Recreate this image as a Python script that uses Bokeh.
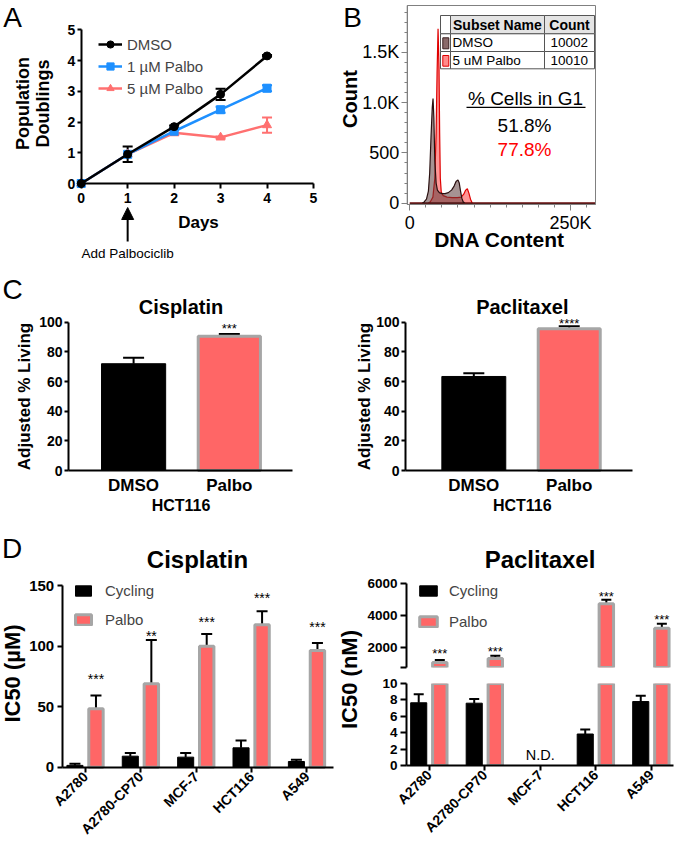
import math
from bokeh.plotting import figure
from bokeh.layouts import row, column
from bokeh.models import (Label, Arrow, NormalHead, BoxAnnotation, Legend, LegendItem,
                          FixedTicker, Range1d, Whisker, TeeHead, ColumnDataSource)
from bokeh.core.properties import value
from bokeh.embed import file_html
from bokeh.resources import INLINE

S = 1.0
FONT = "Liberation Sans"
NAN = float("nan")

# ---------------- data: panel A ----------------
days = [0, 1, 2, 3, 4]
dmso_doublings = [0.0, 0.95, 1.85, 2.90, 4.15]
dmso_doublings_err = [0.0, 0.25, 0.04, 0.18, 0.03]
palbo1_doublings = [0.0, 0.95, 1.70, 2.40, 3.10]
palbo1_doublings_err = [0.0, 0.0, 0.05, 0.10, 0.10]
palbo5_doublings = [0.0, 0.95, 1.65, 1.50, 1.90]
palbo5_doublings_err = [0.0, 0.0, 0.08, 0.03, 0.25]
series_a = ["DMSO", "1 µM Palbo", "5 µM Palbo"]
a_ticks = [0, 1, 2, 3, 4, 5]

# ---------------- data: panel B ----------------
dna_dmso_k = [0, 18, 22, 26, 29, 31, 33, 35, 36.2, 37.5, 39, 41, 43, 46, 50, 55, 60, 65, 69, 72, 75, 77, 79, 81, 83, 86, 289]
count_dmso = [0, 0, 10, 40, 120, 300, 650, 950, 1040, 850, 420, 200, 130, 105, 95, 95, 105, 130, 170, 215, 232, 200, 120, 50, 15, 0, 0]
dna_palbo_k = [0, 28, 32, 36, 39, 41, 42.5, 44, 45.5, 46.5, 47.5, 49, 52, 58, 66, 74, 80, 84, 87, 89.6, 92, 94.5, 97, 99, 289]
count_palbo = [0, 0, 15, 60, 250, 700, 1300, 1733, 1350, 700, 250, 110, 75, 60, 55, 55, 60, 90, 130, 143, 100, 40, 5, 0, 0]
b_count_ticks = [0, 500, 1000, 1500]
b_count_labels = ["0", "500", "1.0K", "1.5K"]
b_dna_ticks = [0, 250000]
b_dna_labels = ["0", "250K"]
table_names = ["DMSO", "5 uM Palbo"]
table_counts = ["10002", "10010"]
g1_pct = ["51.8%", "77.8%"]

# ---------------- data: panel C ----------------
c_groups = ["DMSO", "Palbo"]
c_ticks = [0, 20, 40, 60, 80, 100]
cis_living = [72.0, 90.5]
cis_living_err = [4.0, 1.6]
pac_living = [63.4, 95.5]
pac_living_err = [2.2, 1.8]
cis_living_stars = ["", "***"]
cis_living_star_y = [NAN, 97.8]
pac_living_stars = ["", "****"]
pac_living_star_y = [NAN, 101.0]

# ---------------- data: panel D ----------------
cells = ["A2780", "A2780-CP70", "MCF-7", "HCT116", "A549"]
cis_cycling = [1.5, 9.1, 8.3, 16.0, 4.7]
cis_cycling_err = [1.3, 2.7, 3.5, 6.0, 1.4]
cis_palbo = [48.2, 68.8, 99.8, 117.5, 96.3]
cis_palbo_err = [11.0, 36.2, 10.2, 11.2, 6.3]
cis_stars = ["***", "**", "***", "***", "***"]
cis_star_y = [75.7, 110.6, 122.7, 142.5, 118.6]
cis_ticks = [0, 50, 100, 150]
pac_cycling = [7.65, 7.6, NAN, 3.84, 7.8]
pac_cycling_err = [1.05, 0.5, NAN, 0.56, 0.7]
pac_palbo = [1055, 1308, NAN, 4738, 3200]
pac_palbo_err = [152, 170, NAN, 252, 277]
pac_stars = ["***", "***", "", "***", "***"]
pac_star_y = [1793, 1900, NAN, 5370, 3956]
pac_ticks_high = [740, 2000, 4000, 6000]
pac_ticks_low = [0, 2, 4, 6, 8, 10]
nd_cell = "MCF-7"

BLACK = "black"
BLUE = "#1E90FF"
SALMON = "#FF7070"
BAR_RED = "#FF6666"
BAR_EDGE = "#A6A6A6"


def px(v):
    return f"{v * S:.1f}px"


def full_fig(box, area, dx, dy, **kw):
    """Figure whose frame is its whole canvas; axes are fixed at the plot-area edges."""
    x0, y0, x1, y1 = box
    ax0, ay0, ax1, ay1 = area
    kx = (dx[1] - dx[0]) / (ax1 - ax0)
    ky = (dy[1] - dy[0]) / (ay1 - ay0)
    xr = (dx[0] - (ax0 - x0) * kx, dx[1] + (x1 - ax1) * kx)
    yr = (dy[0] - (y1 - ay1) * ky, dy[1] + (ay0 - y0) * ky)
    p = figure(width=round((x1 - x0) * S), height=round((y1 - y0) * S), title=None,
               x_range=Range1d(*xr), y_range=Range1d(*yr),
               min_border_left=0, min_border_right=0, min_border_top=0, min_border_bottom=0,
               output_backend="svg", toolbar_location=None, **kw)
    p.grid.visible = False
    p.outline_line_color = None
    p.background_fill_color = "white"
    p.border_fill_color = "white"
    p.xaxis[0].fixed_location = dy[0]
    p.xaxis[0].bounds = dx
    p.yaxis[0].fixed_location = dx[0]
    p.yaxis[0].bounds = dy
    return p


def border_fig(box, frame, xr, yr, **kw):
    x0, y0, x1, y1 = box
    fx0, fy0, fx1, fy1 = frame
    p = figure(width=round((x1 - x0) * S), height=round((y1 - y0) * S),
               x_range=Range1d(*xr), y_range=Range1d(*yr),
               min_border_left=round((fx0 - x0) * S), min_border_right=round((x1 - fx1) * S),
               min_border_top=round((fy0 - y0) * S), min_border_bottom=round((y1 - fy1) * S),
               output_backend="svg", toolbar_location=None, **kw)
    p.grid.visible = False
    p.outline_line_color = None
    p.background_fill_color = "white"
    p.border_fill_color = "white"
    return p


def style_axis(ax, size, bold=True, tick_out=5, standoff=3, lw=2, color="black"):
    ax.axis_line_width = lw
    ax.axis_line_color = color
    ax.major_tick_line_width = lw
    ax.major_tick_line_color = color
    ax.major_tick_out = tick_out
    ax.major_tick_in = 0
    ax.minor_tick_line_color = None
    ax.major_label_text_font = FONT
    ax.major_label_text_font_size = px(size)
    ax.major_label_text_font_style = "bold" if bold else "normal"
    ax.major_label_text_color = "black"
    ax.major_label_standoff = standoff


def lab(p, ref, rx, ry, text, size, bold=False, color="black", align="center",
        baseline="middle", angle=0.0):
    fx0, fy0, fx1, fy1 = ref
    p.add_layout(Label(x=(rx - fx0) * S, y=(fy1 - ry) * S, x_units="screen", y_units="screen",
                       text=text, text_font=FONT, text_font_size=px(size),
                       text_font_style="bold" if bold else "normal", text_color=color,
                       text_align=align, text_baseline=baseline, angle=angle))


def box(p, ref, rx0, ry0, rx1, ry1, fill, line=None, lw=1):
    fx0, fy0, fx1, fy1 = ref
    p.add_layout(BoxAnnotation(left=(rx0 - fx0) * S, right=(rx1 - fx0) * S,
                               top=(fy1 - ry0) * S, bottom=(fy1 - ry1) * S,
                               left_units="screen", right_units="screen",
                               top_units="screen", bottom_units="screen",
                               fill_color=fill if fill else "white", fill_alpha=1 if fill else 0,
                               line_color=line, line_width=lw, line_alpha=1 if line else 0))


def whisk(p, xs, lo, hi, color, size, lw=2, both=False):
    keep = [i for i in range(len(xs)) if not (math.isnan(lo[i]) or math.isnan(hi[i])) and hi[i] != lo[i]]
    src = ColumnDataSource(dict(x=[xs[i] for i in keep], lo=[lo[i] for i in keep], hi=[hi[i] for i in keep]))
    head = lambda: TeeHead(size=size * S, line_color=color, line_width=lw)
    p.add_layout(Whisker(source=src, base="x", lower="lo", upper="hi", line_color=color, line_width=lw,
                         upper_head=head(), lower_head=head() if both else None))


def stars(p, xs, ys, texts, size):
    keep = [i for i in range(len(xs)) if texts[i] and not math.isnan(ys[i])]
    src = ColumnDataSource(dict(x=[xs[i] for i in keep], y=[ys[i] for i in keep], t=[texts[i] for i in keep]))
    p.text(x="x", y="y", text="t", source=src, text_font=value(FONT), text_font_size=value(px(size)),
           text_align="center", text_baseline="middle", y_offset=0.22 * size * S, text_color="black")


# ================= Panel A =================
bA = (0, 0, 340, 262)
pA = full_fig(bA, (80.7, 29.3, 313, 183), (0, 5), (0, 5))
for ax in (pA.xaxis[0], pA.yaxis[0]):
    ax.ticker = FixedTicker(ticks=a_ticks)
style_axis(pA.xaxis[0], 14, tick_out=5, standoff=4)
style_axis(pA.yaxis[0], 14, tick_out=4, standoff=2)

rendA = {}
specA = [(palbo5_doublings, palbo5_doublings_err, SALMON, "triangle", 9, series_a[2]),
         (palbo1_doublings, palbo1_doublings_err, BLUE, "square", 8, series_a[1]),
         (dmso_doublings, dmso_doublings_err, BLACK, "circle", 8, series_a[0])]
for vals, errs, col, mk, sz, nm in specA:
    l = pA.line(days, vals, line_color=col, line_width=2.5)
    s = pA.scatter(days, vals, marker=mk, size=sz * S, fill_color=col, line_color=col)
    whisk(pA, days, [v - e for v, e in zip(vals, errs)], [v + e for v, e in zip(vals, errs)], col, 10, both=True)
    rendA[nm] = [l, s]

pA.add_layout(Legend(items=[LegendItem(label=nm, renderers=rendA[nm]) for nm in series_a],
                     location=((98 - bA[0]) * S, (bA[3] - 97) * S), padding=0, margin=0,
                     spacing=round(4.5 * S), glyph_width=round(24 * S), glyph_height=round(18 * S),
                     label_height=round(18 * S), label_standoff=round(5 * S),
                     label_text_font=FONT, label_text_font_size=px(15),
                     border_line_color=None, background_fill_alpha=0))

lab(pA, bA, 12, 17, "A", 28)
lab(pA, bA, 22.5, 103, "Population", 18, bold=True, angle=math.pi / 2)
lab(pA, bA, 42, 103, "Doublings", 18, bold=True, angle=math.pi / 2)
lab(pA, bA, 198, 222, "Days", 17, bold=True)
day1_x = 80.7 + (313 - 80.7) * days[1] / 5.0
pA.add_layout(Arrow(end=NormalHead(size=12 * S, fill_color="black", line_color="black"),
                    x_start=(day1_x - bA[0]) * S, y_start=(bA[3] - 241) * S,
                    x_end=(day1_x - bA[0]) * S, y_end=(bA[3] - 207) * S,
                    start_units="screen", end_units="screen", line_width=2, line_color="black"))
lab(pA, bA, day1_x, 253, "Add Palbociclib", 13.5)

# ================= Panel B =================
bB = (340, 0, 677, 262)
xB = (-4000, 289000)
yB = (-13, 1965)
pB = full_fig(bB, (406.7, 5, 595, 204), xB, yB)
pB.patch([k * 1000 for k in dna_palbo_k], count_palbo, fill_color="#FF4040", fill_alpha=0.55,
         line_color="#E00000", line_width=1.2)
pB.patch([k * 1000 for k in dna_dmso_k], count_dmso, fill_color="#5C3A3A", fill_alpha=0.55,
         line_color="#2A1010", line_width=1.2)
pB.add_layout(BoxAnnotation(left=xB[0], right=xB[1], bottom=yB[0], top=yB[1], fill_alpha=0,
                            line_color="#808080", line_width=1, line_alpha=1))
pB.xaxis[0].ticker = FixedTicker(ticks=b_dna_ticks, minor_ticks=[25000 * i for i in range(1, 12)])
pB.xaxis[0].major_label_overrides = dict(zip(b_dna_ticks, b_dna_labels))
pB.yaxis[0].ticker = FixedTicker(ticks=b_count_ticks, minor_ticks=[100 * i for i in range(1, 20)])
pB.yaxis[0].major_label_overrides = dict(zip(b_count_ticks, b_count_labels))
style_axis(pB.xaxis[0], 18, bold=False, tick_out=6, standoff=2, lw=1, color="#808080")
style_axis(pB.yaxis[0], 18, bold=False, tick_out=6, standoff=2, lw=1, color="#808080")
for ax in (pB.xaxis[0], pB.yaxis[0]):
    ax.minor_tick_line_color = "#808080"
    ax.minor_tick_out = 3
    ax.minor_tick_in = 0

TL = "#555555"
box(pB, bB, 440, 15, 450, 33.3, "white", TL)
box(pB, bB, 450, 15, 544, 33.3, "#E4E4E4", TL)
box(pB, bB, 544, 15, 594, 33.3, "#E4E4E4", TL)
for r0, r1 in ((33.3, 51), (51, 68.3)):
    box(pB, bB, 440, r0, 450, r1, "white", TL)
    box(pB, bB, 450, r0, 544, r1, "white", TL)
    box(pB, bB, 544, r0, 594, r1, "white", TL)
box(pB, bB, 442.3, 37.3, 448.3, 48.3, "#8A6A6A", "#3A2020")
box(pB, bB, 442.3, 55, 448.3, 65.7, "#FF8A8A", "#E00000")
lab(pB, bB, 452.5, 24.3, "Subset Name", 14, bold=True, align="left")
lab(pB, bB, 569, 24.3, "Count", 14, bold=True)
for nm, cnt, yy in zip(table_names, table_counts, (42.3, 60)):
    lab(pB, bB, 452, yy, nm, 13.5, align="left")
    lab(pB, bB, 587.5, yy, cnt, 13.5, align="right")
lab(pB, bB, 525, 98.3, "% Cells in G1", 19)
box(pB, bB, 466, 106.2, 585, 107.5, "black", None)
lab(pB, bB, 524, 125, g1_pct[0], 19, color="black")
lab(pB, bB, 524, 149, g1_pct[1], 19, color="#FF0000")
lab(pB, bB, 352, 17, "B", 28)
lab(pB, bB, 349, 98.5, "Count", 20, bold=True, angle=math.pi / 2)
lab(pB, bB, 499, 238.5, "DNA Content", 21, bold=True)


# ================= Panel C =================
def panel_c(bx, area, dx, vals, errs, st, st_y):
    p = full_fig(bx, area, dx, (0, 100))
    xs = list(range(len(c_groups)))
    p.vbar(x=[xs[0]], top=[vals[0]], width=0.67, fill_color="black", line_color="black", line_width=1)
    p.vbar(x=[xs[1]], top=[vals[1]], width=0.65, fill_color=BAR_RED, line_color=BAR_EDGE, line_width=3)
    whisk(p, xs, vals, [v + e for v, e in zip(vals, errs)], "black", 21)
    stars(p, xs, st_y, st, 13)
    p.yaxis[0].ticker = FixedTicker(ticks=c_ticks)
    p.xaxis[0].ticker = FixedTicker(ticks=xs)
    p.xaxis[0].major_label_overrides = {i: g for i, g in enumerate(c_groups)}
    style_axis(p.yaxis[0], 14, tick_out=4, standoff=2)
    style_axis(p.xaxis[0], 17, tick_out=0, standoff=5)
    p.xaxis[0].major_tick_line_color = None
    return p


bC1 = (0, 262, 340, 515)
pC1 = panel_c(bC1, (68, 321.7, 292, 470), (-0.68, 1.66), cis_living, cis_living_err,
              cis_living_stars, cis_living_star_y)
lab(pC1, bC1, 12, 289, "C", 28)
lab(pC1, bC1, 180.5, 306.7, "Cisplatin", 20, bold=True)
lab(pC1, bC1, 23.5, 396, "Adjusted % Living", 17, bold=True, angle=math.pi / 2)
lab(pC1, bC1, 180.5, 505, "HCT116", 16, bold=True)

bC2 = (340, 262, 677, 515)
pC2 = panel_c(bC2, (405, 321.7, 631.7, 470), (-0.716, 1.66), pac_living, pac_living_err,
              pac_living_stars, pac_living_star_y)
lab(pC2, bC2, 521.8, 306.7, "Paclitaxel", 20, bold=True)
lab(pC2, bC2, 363.5, 396, "Adjusted % Living", 17, bold=True, angle=math.pi / 2)
lab(pC2, bC2, 521.8, 505, "HCT116", 16, bold=True)

# ================= Panel D =================
OFF = 0.19
BW = 0.29
xi = list(range(len(cells)))
xb = [i - OFF for i in xi]
xr_ = [i + OFF for i in xi]


def cell_axis(ax):
    ax.ticker = FixedTicker(ticks=xi)
    ax.major_label_overrides = {i: c for i, c in enumerate(cells)}
    style_axis(ax, 14, tick_out=5, standoff=2)
    ax.major_label_orientation = math.pi / 4


def d_legend(p, ref, rb, rr, gx0, gx1, tx, top, pitch, gh):
    sp = pitch - gh
    bottom = top + 2 * gh + sp
    p.add_layout(Legend(items=[LegendItem(label="Cycling", renderers=[rb]),
                               LegendItem(label="Palbo", renderers=[rr])],
                        location=((gx0 - ref[0]) * S, (ref[3] - bottom) * S), padding=0, margin=0,
                        spacing=round(sp * S), glyph_width=round((gx1 - gx0) * S), glyph_height=round(gh * S),
                        label_height=round(gh * S), label_standoff=round((tx - gx1) * S),
                        label_text_font=FONT, label_text_font_size=px(15),
                        inactive_fill_alpha=0,
                        border_line_color=None, background_fill_alpha=0))


SPLIT = 363
bD1 = (0, 515, SPLIT, 844)
pD1 = full_fig(bD1, (61.7, 585, 333, 766.7), (-0.42, 4.48), (0, 150))
rb1 = pD1.vbar(x=xb, top=cis_cycling, width=BW, fill_color="black", line_color="black", line_width=1)
rr1 = pD1.vbar(x=xr_, top=cis_palbo, width=BW - 0.03, fill_color=BAR_RED, line_color=BAR_EDGE, line_width=3)
whisk(pD1, xb, cis_cycling, [v + e for v, e in zip(cis_cycling, cis_cycling_err)], "black", 11)
whisk(pD1, xr_, cis_palbo, [v + e for v, e in zip(cis_palbo, cis_palbo_err)], "black", 11)
stars(pD1, xr_, cis_star_y, cis_stars, 14)
pD1.yaxis[0].ticker = FixedTicker(ticks=cis_ticks)
style_axis(pD1.yaxis[0], 15, tick_out=5, standoff=3)
cell_axis(pD1.xaxis[0])
d_legend(pD1, bD1, rb1, rr1, 73, 93, 105, 590, 25, 13)
lab(pD1, bD1, 11.7, 547.5, "D", 28)
lab(pD1, bD1, 197, 559, "Cisplatin", 24, bold=True)
lab(pD1, bD1, 12, 673, "IC50 (µM)", 22, bold=True, angle=math.pi / 2)
lab(pD1, bD1, 349, 679, "IC50 (nM)", 22, bold=True, angle=math.pi / 2)

bD2t = (SPLIT, 515, 677, 674)
fD2t = (405.7, 583.3, 673, 666.7)
pD2t = border_fig(bD2t, fD2t, (-0.41, 4.40), (740, 6000), x_axis_location=None, title="Paclitaxel")
pD2t.title.align = "center"
pD2t.title.text_font = FONT
pD2t.title.text_font_size = px(24)
pD2t.title.text_font_style = "bold"
pD2t.title.text_color = "black"
pD2t.title.standoff = 21
pD2t.title.offset = 2
# cycling IC50s (< 10 nM) lie entirely in the lower axis segment; this hidden renderer only feeds the legend
rb2 = pD2t.vbar(x=xb, top=pac_cycling, width=BW, fill_color="black", line_color="black", line_width=1)
rb2.visible = False
rr2 = pD2t.vbar(x=xr_, top=pac_palbo, width=BW - 0.03, fill_color=BAR_RED, line_color=BAR_EDGE, line_width=3)
whisk(pD2t, xr_, pac_palbo, [v + e for v, e in zip(pac_palbo, pac_palbo_err)], "black", 10)
stars(pD2t, xr_, pac_star_y, pac_stars, 13)
pD2t.yaxis[0].ticker = FixedTicker(ticks=pac_ticks_high)
pD2t.yaxis[0].major_label_overrides = {pac_ticks_high[0]: ""}
style_axis(pD2t.yaxis[0], 13.5, tick_out=6, standoff=3)
d_legend(pD2t, fD2t, rb2, rr2, 416.7, 438.3, 448, 590, 26.5, 13)

bD2b = (SPLIT, 674, 677, 844)
fD2b = (405.7, 682.7, 673, 766)
pD2b = border_fig(bD2b, fD2b, (-0.41, 4.40), (0, 10), title=None)
pD2b.vbar(x=xb, top=pac_cycling, width=BW, fill_color="black", line_color="black", line_width=1)
pD2b.vbar(x=xr_, top=pac_palbo, width=BW - 0.03, fill_color=BAR_RED, line_color=BAR_EDGE, line_width=3)
whisk(pD2b, xb, pac_cycling, [v + e for v, e in zip(pac_cycling, pac_cycling_err)], "black", 10)
pD2b.yaxis[0].ticker = FixedTicker(ticks=pac_ticks_low)
style_axis(pD2b.yaxis[0], 13.5, tick_out=6, standoff=3)
cell_axis(pD2b.xaxis[0])
pD2b.add_layout(Label(x=cells.index(nd_cell), y=1.3, text="N.D.", text_font=FONT, text_font_size=px(14.5),
                      text_align="center", text_baseline="middle", text_color="black"))

layout = column(row(pA, pB), row(pC1, pC2), row(pD1, column(pD2t, pD2b)))
open("out.html", "w").write(file_html(layout, INLINE, "Figure"))
